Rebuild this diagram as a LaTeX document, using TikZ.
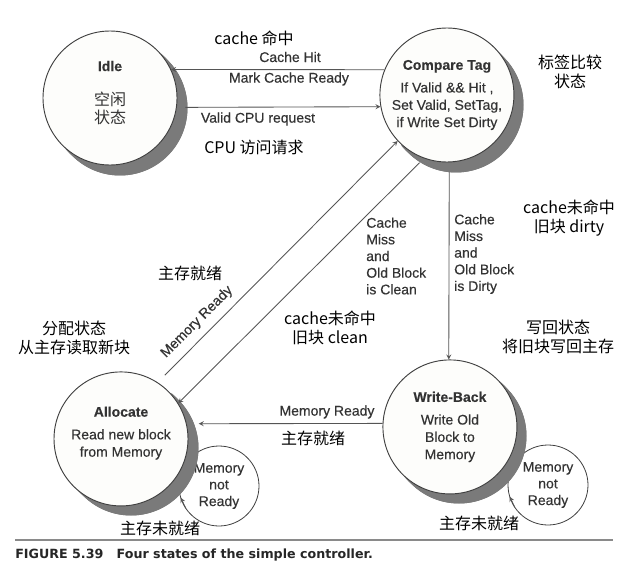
\documentclass[tikz,border=0pt]{standalone}
\usepackage{fontspec}
\setmainfont{Liberation Sans}
\newfontfamily\enfont{Liberation Sans}[FakeBold=0.35]
\newfontfamily\cjk{Noto Sans CJK SC}
\newfontfamily\capfont{DejaVu Sans}
\usepackage{tikz}
\usetikzlibrary{arrows,positioning}

\definecolor{linegray}{HTML}{555555}
\definecolor{edgegray}{HTML}{404040}
\definecolor{textgray}{HTML}{333333}
\definecolor{statefill}{HTML}{FDFDFB}
\definecolor{shadowgray}{HTML}{7A7A7A}
\definecolor{rulegray}{HTML}{8A8A8A}

\setlength{\lineskiplimit}{-20pt}
\newcommand\zhtext[1]{{\cjk\fontsize{12}{13}\selectfont #1}}

\begin{document}
\begin{tikzpicture}[
    x=0.75pt, y=-0.75pt,
    state/.style={circle, draw=edgegray, fill=statefill, line width=0.7pt, minimum size=100.5pt, inner sep=0pt, align=center, text=textgray, font=\enfont\fontsize{10.5}{13}\selectfont},
    shadowfill/.style={fill=shadowgray},
    shadowline/.style={draw=shadowgray, line width=1.8pt},
    loopstate/.style={circle, draw=edgegray, line width=0.6pt, minimum size=60pt, inner sep=0pt, outer sep=0pt, align=center, text=textgray, font=\enfont\fontsize{10.5}{12.5}\selectfont},
    en/.style={text=textgray, font=\enfont\fontsize{10.5}{12.5}\selectfont, inner sep=0pt, align=left},
    cn/.style={text=black, font=\cjk\fontsize{12}{14.5}\selectfont, inner sep=0pt, align=center},
    arrow/.style={->, >=stealth, draw=linegray, line width=0.65pt}
]
\fill[white] (0,0) rectangle (629,567);
\useasboundingbox (0,0) rectangle (629,567);

% Self loops (behind the shadows)
\node[loopstate] (allocloop) at (219,486) {Memory\\not\\Ready};
\node[loopstate] (wbloop) at (548,485) {Memory\\not\\Ready};

% Shadows (crescents below right of each state)
\foreach \cx/\cy in {110/98, 446/95, 121/438, 449/426} {
  \fill[shadowfill] (\cx+10,\cy+10) circle (67.5);
  \foreach \k [evaluate=\k as \a using {acos(-0.105*\k/12)-3}, evaluate=\k as \d using {10*\k/12}] in {1,...,12}
    \draw[shadowline] (\cx+\d,\cy+\d) ++(-45-\a:49.7pt) arc[start angle=-45-\a, end angle=-45+\a, radius=49.7pt];
}

% States
\node[state] (idle) at (110,98) {\textbf{Idle}\\[13pt]\zhtext{空闲}\\\zhtext{状态}\rule[-9pt]{0pt}{0pt}};
\node[state, right=151.5pt of idle, yshift=2.25pt] (compare) {\textbf{Compare Tag}\\[4pt]If Valid \&\& Hit ,\\Set Valid, SetTag,\\if Write Set Dirty};
\node[state, below=154.5pt of idle, xshift=8.25pt] (allocate) {\textbf{Allocate}\\[4pt]Read new block\\from Memory\rule[-11pt]{0pt}{0pt}};
\node[state, below=147.75pt of compare, xshift=2.25pt] (writeback) {\textbf{Write-Back}\\[4pt]Write Old\\Block to\\Memory};

% Transitions
\draw[arrow] (compare.158) -- (idle.25);
\draw[arrow, shorten <=6.5pt] (idle.352) -- (compare.190);
\draw[arrow, shorten <=7.5pt] (allocate.57) -- (compare.223);
\draw[arrow, shorten <=4.5pt] (compare.250) -- (allocate.32);
\draw[arrow, shorten <=7pt] (compare.272) -- (writeback.91);
\draw[arrow, shorten >=9pt] (writeback.177) -- (allocate.13);
\draw[arrow] (allocloop.214) -- (allocloop.197);
\draw[arrow] (wbloop.214) -- (wbloop.197);

% Labels
\node[cn] (hitcn) at (254,38) {cache 命中};
\node[en] (hit) at (290,57) {Cache Hit};
\node[en] (markready) at (289,79) {Mark Cache Ready};
\node[en] (validreq) at (258,119) {Valid CPU request};
\node[cn] (reqcn) at (254,147) {CPU 访问请求};
\node[cn] (comparecn) at (570,72) {标签比较\\状态};
\node[cn] (readycn) at (190,273) {主存就绪};
\node[en, rotate=45] (memready) at (197,322) {Memory Ready};
\node[en, anchor=west] (cleanlbl) at (366,256) {Cache\\Miss\\and\\Old Block\\is Clean};
\node[cn] (cleancn) at (330,328) {cache未命中\\旧块 clean};
\node[en, anchor=west] (dirtylbl) at (454,254) {Cache\\Miss\\and\\Old Block\\is Dirty};
\node[cn] (dirtycn) at (569,218) {cache未命中\\旧块 dirty};
\node[cn] (writebackcn) at (558,337) {写回状态\\将旧块写回主存};
\node[cn] (allocatecn) at (74,338) {分配状态\\从主存读取新块};
\node[en] (wbready) at (327,412) {Memory Ready};
\node[cn] (wbreadycn) at (313,438) {主存就绪};
\node[cn] (allocwait) at (160,528) {主存未就绪};
\node[cn] (wbwait) at (479,523) {主存未就绪};

% Caption
\draw[rulegray, line width=1.3pt] (15,540) -- (613,540);
\node[anchor=west, inner sep=0pt, text=black!85, font=\capfont\bfseries\fontsize{9.5}{11}\selectfont] (caption) at (15,555) {FIGURE 5.39\hspace{10pt}Four states of the simple controller.};
\end{tikzpicture}
\end{document}
